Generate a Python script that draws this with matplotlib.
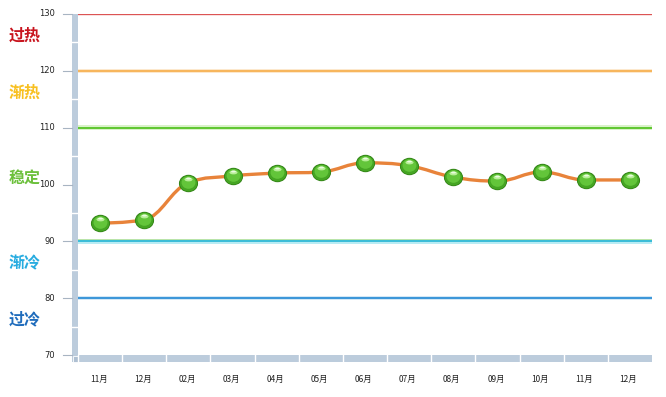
import matplotlib
matplotlib.use("Agg")
import matplotlib.pyplot as plt
from matplotlib.path import Path
from matplotlib.patches import PathPatch, Rectangle
from matplotlib.transforms import offset_copy, Affine2D
import numpy as np

plt.rcParams['font.family'] = ['Noto Sans CJK SC', 'DejaVu Sans']

months = ["11月", "12月", "02月", "03月", "04月", "05月", "06月", "07月", "08月", "09月", "10月", "11月", "12月"]
values = [93.2, 93.8, 100.3, 101.5, 102.0, 102.2, 103.8, 103.3, 101.3, 100.6, 102.2, 100.8, 100.8]
y_ticks = [70, 80, 90, 100, 110, 120, 130]
thresholds = [130, 120, 110, 90, 80]
threshold_colors = ["#D42A2A", "#F7B55A", "#5EC62E", "#38BCD8", "#2E8FD6"]
glow_above = ["#F6D8D8", "#FCE8CC", "#D8F2C8", "#B8E4A8", "#D0E6F6"]
glow_below = ["#F6D8D8", "#FCE8CC", "#D8F2C8", "#B8ECF4", "#D0E6F6"]
threshold_widths = [1.1, 1.4, 1.4, 1.4, 1.3]
zone_labels = ["过热", "渐热", "稳定", "渐冷", "过冷"]
zone_values = [126.2, 116.2, 101.2, 86.2, 76.2]
zone_colors = ["#C8141E", "#F8C020", "#6CC03C", "#28ACE0", "#1F6CBC"]

W, H = 666, 397
fig = plt.figure(figsize=(W / 100, H / 100), dpi=100)
fig.patch.set_facecolor("white")

L, R, T, B = 78, 652, 14, 355
ax = fig.add_axes([L / W, 1 - B / H, (R - L) / W, (B - T) / H])
ax.set_xlim(-0.5, len(months) - 0.5)
ax.set_ylim(70, 130)
for s in ax.spines.values():
    s.set_visible(False)
ax.set_xticks([])
ax.set_yticks([])
ax.patch.set_alpha(0)

def px(x, y):
    return x / W, 1 - y / H

fig.add_artist(Rectangle(px(72, 362), 6 / W, (362 - 14) / H, transform=fig.transFigure,
                         facecolor="#BCCCDC", edgecolor="none", zorder=0))
fig.add_artist(Rectangle(px(72, 362), (652 - 72) / W, 7 / H, transform=fig.transFigure,
                         facecolor="#BCCCDC", edgecolor="none", zorder=0))
fig.add_artist(Rectangle(px(72.5, 361.5), 5 / W, 6 / H, transform=fig.transFigure,
                         facecolor="#AFC0D2", edgecolor="white", lw=0.6, zorder=1))

for v in np.arange(75, 130, 10):
    yy = ax.transData.transform((0, v))[1] / H
    fig.add_artist(plt.Line2D([72 / W, 78 / W], [yy, yy], transform=fig.transFigure,
                              color="white", lw=1, zorder=1))
for i in range(len(months)):
    xx = ax.transData.transform((i - 0.5, 0))[0] / W
    fig.add_artist(plt.Line2D([xx, xx], [1 - 355 / H, 1 - 362 / H], transform=fig.transFigure,
                              color="white", lw=1, zorder=1))

for v in y_ticks:
    yy = ax.transData.transform((0, v))[1] / H
    fig.add_artist(plt.Line2D([63 / W, 72 / W], [yy, yy], transform=fig.transFigure,
                              color="#A8B4C2", lw=0.8))
    fig.text(55 / W, yy, str(v), ha="right", va="center", fontsize=6,
             family="DejaVu Sans", color="#222222")

t_up = offset_copy(ax.transData, fig=fig, x=0, y=1.3, units="dots")
t_dn = offset_copy(ax.transData, fig=fig, x=0, y=-1.3, units="dots")
xr = [-0.5, len(months) - 0.5]
for v, c, ga, gb, lw in zip(thresholds, threshold_colors, glow_above, glow_below, threshold_widths):
    ax.plot(xr, [v, v], color=ga, lw=lw, zorder=2, transform=t_up, solid_capstyle="butt")
    ax.plot(xr, [v, v], color=gb, lw=lw, zorder=2, transform=t_dn, solid_capstyle="butt")
    ax.plot(xr, [v, v], color=c, lw=lw, zorder=2.1, solid_capstyle="butt")

for lab, v, c in zip(zone_labels, zone_values, zone_colors):
    yy = ax.transData.transform((0, v))[1] / H
    fig.text(9 / W, yy, lab, ha="left", va="center", fontsize=11.5,
             fontweight="bold", color=c)

for i, m in enumerate(months):
    xx = ax.transData.transform((i, 0))[0] / W
    fig.text(xx - 1.5 / W, 1 - 379 / H, m, ha="center", va="center", fontsize=6,
             color="#222222")

# smooth spline (Highcharts-style control points)
xs = np.arange(len(values), dtype=float)
ys = np.array(values, dtype=float)
sm = 1.5
n = len(xs)
ctrl_left = [None] * n
ctrl_right = [None] * n
for i in range(n):
    if i == 0 or i == n - 1:
        ctrl_left[i] = (xs[i], ys[i])
        ctrl_right[i] = (xs[i], ys[i])
        continue
    lx = (sm * xs[i] + xs[i - 1]) / (sm + 1)
    ly = (sm * ys[i] + ys[i - 1]) / (sm + 1)
    rx = (sm * xs[i] + xs[i + 1]) / (sm + 1)
    ry = (sm * ys[i] + ys[i + 1]) / (sm + 1)
    corr = ((ry - ly) * (rx - xs[i])) / (rx - lx) + ys[i] - ry
    ly += corr
    ry += corr
    if ly > max(ys[i - 1], ys[i]):
        ly = max(ys[i - 1], ys[i]); ry = 2 * ys[i] - ly
    elif ly < min(ys[i - 1], ys[i]):
        ly = min(ys[i - 1], ys[i]); ry = 2 * ys[i] - ly
    if ry > max(ys[i + 1], ys[i]):
        ry = max(ys[i + 1], ys[i]); ly = 2 * ys[i] - ry
    elif ry < min(ys[i + 1], ys[i]):
        ry = min(ys[i + 1], ys[i]); ly = 2 * ys[i] - ry
    ctrl_left[i] = (lx, ly)
    ctrl_right[i] = (rx, ry)
verts = [(xs[0], ys[0])]
codes = [Path.MOVETO]
for i in range(1, n):
    verts += [ctrl_right[i - 1], ctrl_left[i], (xs[i], ys[i])]
    codes += [Path.CURVE4] * 3
path = Path(verts, codes)
ax.add_patch(PathPatch(path, facecolor="none", edgecolor="#E8833A", lw=2.4, zorder=3,
                       capstyle="round", joinstyle="round"))

# glossy markers (slightly wide ellipses)
ell = Path.unit_circle().transformed(Affine2D().scale(1.1, 1.0))
ax.scatter(xs, ys, s=190, color="#2F7F14", zorder=4, linewidths=0, marker=ell)
ax.scatter(xs, ys, s=160, color="#45A523", zorder=5, linewidths=0, marker=ell)
t1 = offset_copy(ax.transData, fig=fig, x=0, y=1.2, units="dots")
ax.scatter(xs, ys, s=100, color="#63C53A", zorder=6, linewidths=0, transform=t1, marker=ell)
t2 = offset_copy(ax.transData, fig=fig, x=0, y=4.2, units="dots")
ax.scatter(xs, ys, s=34, color="#B8EE98", zorder=7, linewidths=0, transform=t2,
           marker=Path.unit_circle().transformed(Affine2D().scale(1.7, 0.8)))
t3 = offset_copy(ax.transData, fig=fig, x=0, y=4.8, units="dots")
ax.scatter(xs, ys, s=12, color="#EAFBE0", zorder=8, linewidths=0, transform=t3,
           marker=Path.unit_circle().transformed(Affine2D().scale(1.7, 0.7)))

fig.savefig("out.png", dpi=100, facecolor="white")
